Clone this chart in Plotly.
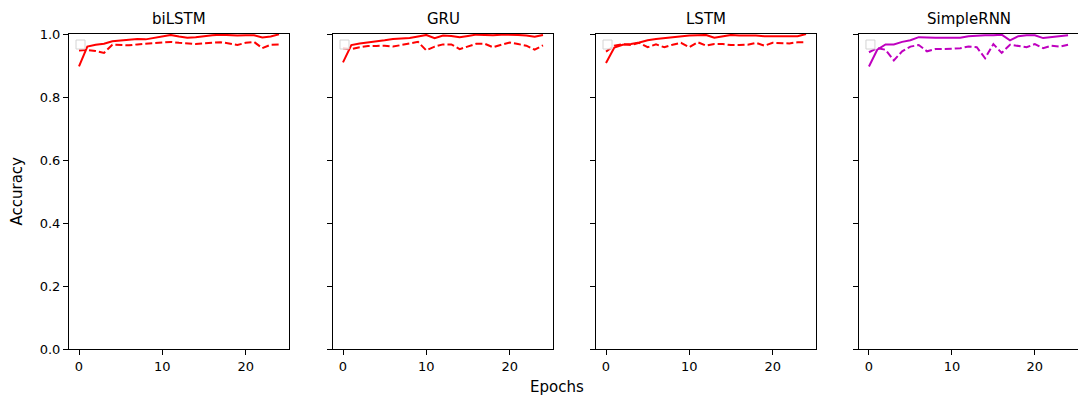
import plotly.graph_objects as go

epochs = list(range(25))
model_names = ["biLSTM", "GRU", "LSTM", "SimpleRNN"]
model_colors = ["#ff0000", "#ff0000", "#ff0000", "#bf00bf"]

bilstm_train = [0.897, 0.960, 0.966, 0.969, 0.977, 0.979, 0.981, 0.984, 0.983, 0.987, 0.991, 0.997, 0.992,
                0.988, 0.990, 0.994, 0.996, 0.998, 0.996, 0.995, 0.996, 0.996, 0.989, 0.992, 0.999]
bilstm_val = [0.948, 0.949, 0.946, 0.940, 0.966, 0.965, 0.964, 0.967, 0.969, 0.971, 0.973, 0.975, 0.972,
              0.970, 0.968, 0.970, 0.972, 0.974, 0.970, 0.965, 0.972, 0.975, 0.955, 0.966, 0.967]
gru_train = [0.910, 0.965, 0.970, 0.973, 0.975, 0.980, 0.984, 0.985, 0.987, 0.992, 0.997, 0.987, 0.995,
             0.994, 0.990, 0.994, 0.998, 0.997, 0.996, 0.998, 0.998, 0.997, 0.995, 0.991, 0.997]
gru_val = [0.955, 0.952, 0.958, 0.962, 0.962, 0.963, 0.960, 0.965, 0.972, 0.975, 0.948, 0.960, 0.967,
           0.967, 0.952, 0.960, 0.969, 0.969, 0.958, 0.966, 0.973, 0.968, 0.963, 0.950, 0.964]
lstm_train = [0.908, 0.957, 0.966, 0.968, 0.973, 0.980, 0.984, 0.987, 0.989, 0.993, 0.995, 0.996, 0.997,
              0.988, 0.993, 0.997, 0.995, 0.996, 0.995, 0.993, 0.993, 0.992, 0.993, 0.993, 1.000]
lstm_val = [0.944, 0.963, 0.968, 0.965, 0.972, 0.958, 0.967, 0.958, 0.966, 0.972, 0.958, 0.974, 0.963,
            0.968, 0.968, 0.965, 0.965, 0.966, 0.972, 0.963, 0.972, 0.970, 0.970, 0.974, 0.974]
rnn_train = [0.897, 0.950, 0.967, 0.967, 0.975, 0.980, 0.990, 0.988, 0.988, 0.988, 0.989, 0.988, 0.993,
             0.995, 0.996, 0.996, 0.998, 0.980, 0.993, 0.996, 0.996, 0.987, 0.990, 0.991, 0.996]
rnn_val = [0.942, 0.955, 0.950, 0.916, 0.945, 0.960, 0.965, 0.945, 0.952, 0.952, 0.953, 0.955, 0.960,
           0.958, 0.923, 0.968, 0.940, 0.966, 0.963, 0.958, 0.968, 0.955, 0.963, 0.960, 0.966]

train_series = [bilstm_train, gru_train, lstm_train, rnn_train]
val_series = [bilstm_val, gru_val, lstm_val, rnn_val]

y_ticks = [0.0, 0.2, 0.4, 0.6, 0.8, 1.0]
y_tick_text = ["0.0", "0.2", "0.4", "0.6", "0.8", "1.0"]
x_ticks = [0, 10, 20]

W, H = 1078, 397
ML, MR, MT, MB = 69, 0, 34, 48
PW = W - ML - MR
panel_px = [(69, 289), (333, 553), (596, 816), (859, 1078)]
domains = [((a - ML) / PW, min(1.0, (b - ML) / PW)) for a, b in panel_px]

FONT = "DejaVu Sans"
fig = go.Figure()
layout = dict(
    width=W, height=H,
    margin=dict(l=ML, r=MR, t=MT, b=MB),
    paper_bgcolor="white", plot_bgcolor="white",
    showlegend=False,
    font=dict(family=FONT, size=13, color="black"),
)
shapes = []
annotations = []

for i in range(4):
    s = "" if i == 0 else str(i + 1)
    xa, ya = "x" + s, "y" + s
    fig.add_trace(go.Scatter(x=epochs, y=train_series[i], mode="lines", xaxis=xa, yaxis=ya,
                             line=dict(color=model_colors[i], width=2), cliponaxis=True))
    fig.add_trace(go.Scatter(x=epochs, y=val_series[i], mode="lines", xaxis=xa, yaxis=ya,
                             line=dict(color=model_colors[i], width=2, dash="7px,3px"), cliponaxis=True))
    last = i == 3
    layout["xaxis" + s] = dict(
        domain=list(domains[i]), anchor=ya, range=[-1.2, 25.2],
        tickvals=x_ticks, ticktext=[str(t) for t in x_ticks],
        ticks="outside", ticklen=5, tickwidth=1, tickcolor="black",
        showline=True, linecolor="black", linewidth=1, mirror=True,
        showgrid=False, zeroline=False, tickfont=dict(size=13, family=FONT),
    )
    layout["yaxis" + s] = dict(
        domain=[0, 1], anchor=xa, range=[0, 1],
        tickvals=y_ticks, ticktext=y_tick_text, showticklabels=(i == 0),
        ticks="outside", ticklen=5, tickwidth=1, tickcolor="black",
        showline=True, linecolor="black", linewidth=1, mirror=(not last),
        showgrid=False, zeroline=False, tickfont=dict(size=13, family=FONT),
    )
    # empty legend box
    shapes.append(dict(type="rect", xref=xa + " domain", yref=ya + " domain",
                       x0=7 / 220, x1=16 / 220, y0=1 - 15 / 315, y1=1 - 6 / 315,
                       line=dict(color="#d4d4d4", width=1), fillcolor="rgba(255,255,255,0.8)",
                       layer="above"))
    annotations.append(dict(text=model_names[i], xref="paper", yref="paper",
                            x=(domains[i][0] + domains[i][1]) / 2 if not last else ((859 + 1079) / 2 - ML) / PW,
                            y=1, xanchor="center", yanchor="bottom", yshift=4, showarrow=False,
                            font=dict(size=15, family=FONT, color="black")))

annotations.append(dict(text="Accuracy", xref="paper", yref="paper", x=(16 - ML) / PW, y=0.5,
                        xanchor="center", yanchor="middle", textangle=-90, showarrow=False,
                        font=dict(size=15, family=FONT, color="black")))
annotations.append(dict(text="Epochs", xref="paper", yref="paper", x=(557 - ML) / PW, y=0,
                        xanchor="center", yanchor="middle", yshift=-38, showarrow=False,
                        font=dict(size=15, family=FONT, color="black")))

layout["shapes"] = shapes
layout["annotations"] = annotations
fig.update_layout(**layout)
fig.write_html("out.html", config={"displayModeBar": False},
               post_script="document.body.style.margin='0';document.body.style.overflow='hidden';")
